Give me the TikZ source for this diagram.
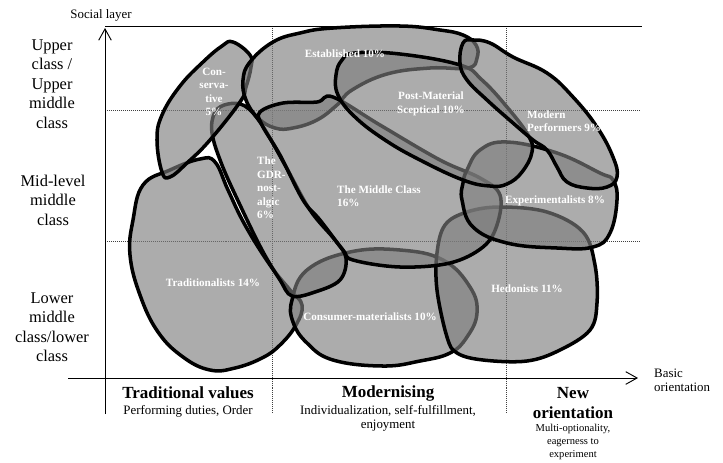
\documentclass[tikz,border=0pt]{standalone}
\usepackage{fontspec}
\setmainfont{Liberation Serif}
\usetikzlibrary{arrows.meta}

\begin{document}
\begin{tikzpicture}[x=0.03cm, y=-0.03cm, >={Straight Barb[length=3.4mm,width=3.8mm]},
    blob/.style={draw=black, line width=3pt, fill=black!51, fill opacity=0.64, line join=round},
    grid/.style={densely dotted, line width=0.7pt, black!75},
    tag/.style={text=white, font=\fontsize{9.5}{11.5}\selectfont\bfseries, inner sep=0pt},
    layer/.style={font=\fontsize{14}{16.6}\selectfont, align=center, inner sep=0pt},
    value/.style={font=\fontsize{14.5}{17}\selectfont\bfseries, align=center, inner sep=0pt},
    note/.style={font=\fontsize{11}{12}\selectfont, align=center, inner sep=0pt}]
    \useasboundingbox (0,0) rectangle (723,462);
    % grid
    \draw[grid] (105,110) -- (640,110);
    \draw[grid] (105,241) -- (640,241);
    \draw[grid] (272,26) -- (272,414);
    \draw[grid] (506,26) -- (506,414);
    % milieus
    \draw[blob] plot[smooth cycle, tension=0.7] coordinates {(143,185) (170,170) (200,159) (215,162) (228,190) (245,225) (270,265) (290,290) (302,305) (296,325) (280,345) (262,358) (235,368) (210,370) (183,357) (158,332) (140,295) (130,255) (133,220)};
    \draw[blob] plot[smooth cycle, tension=0.7] coordinates {(292,300) (307,270) (350,252) (400,250) (443,260) (470,287) (477,313) (467,337) (450,353) (420,361) (383,366) (333,360) (307,343) (293,322)};
    \draw[blob] plot[smooth cycle, tension=0.6] coordinates {(437,253) (445,225) (467,212) (500,207) (547,212) (583,232) (595,265) (597,303) (590,330) (560,350) (527,361) (483,360) (457,353) (447,337) (437,290)};
    \draw[blob] plot[smooth cycle, tension=0.6] coordinates {(212,133) (215,112) (228,104) (245,106) (262,125) (285,165) (310,210) (335,240) (346,258) (340,280) (315,292) (292,296) (280,280) (262,250) (240,205) (222,165)};
    \draw[blob] plot[smooth cycle, tension=0.7] coordinates {(233,42) (250,55) (251,67) (246,87) (240,102) (210,140) (187,163) (170,177) (162,172) (157,140) (162,115) (180,86) (203,62) (222,46)};
    \draw[blob] plot[smooth cycle, tension=0.7] coordinates {(243,80) (250,62) (273,42) (300,33) (333,28) (400,26) (440,30) (463,35) (476,45) (477,58) (468,68) (430,68) (387,74) (352,90) (337,105) (317,120) (293,128) (275,128) (258,118) (246,100)};
    \draw[blob] plot[smooth cycle, tension=0.6] coordinates {(260,112) (283,103) (317,102) (333,97) (380,125) (440,160) (480,178) (500,195) (497,225) (483,247) (450,263) (400,267) (353,260) (343,250) (320,220) (303,200) (280,155) (262,125)};
    \draw[blob] plot[smooth cycle, tension=0.7] coordinates {(463,183) (462,200) (473,227) (507,243) (557,248) (593,247) (610,233) (617,200) (613,180) (600,173) (557,153) (507,142) (480,150) (467,170)};
    \draw[blob] plot[smooth cycle, tension=0.7] coordinates {(336,75) (342,60) (355,53) (400,54) (460,65) (482,80) (507,107) (528,135) (532,152) (522,172) (507,184) (490,186) (463,180) (420,160) (385,140) (355,117) (338,95)};
    \draw[blob] plot[smooth cycle, tension=0.7] coordinates {(463,43) (473,40) (490,43) (513,57) (547,73) (573,97) (597,127) (613,157) (617,177) (607,187) (587,188) (567,182) (557,167) (547,150) (533,140) (513,123) (487,100) (467,80) (460,63)};
    % axes
    \coordinate (yfoot) at (105,414);
    \coordinate (ytip) at (105,28);
    \coordinate (xfoot) at (68,378);
    \coordinate (xtip) at (638,378);
    \coordinate (topl) at (105,26);
    \coordinate (topr) at (642,26);
    \draw[->, line width=0.8pt] (yfoot) -- (ytip);
    \draw[->, line width=0.8pt] (xfoot) -- (xtip);
    \draw[line width=0.8pt] (topl) -- (topr);
    % milieu labels
    \node[tag, align=center] (cons) at (214,92) {Con-\\serva-\\tive\\5\%};
    \node[tag] (estab) at (345,54) {Established 10\%};
    \node[tag, align=center] (postm) at (431,104) {Post-Material\\Sceptical 10\%};
    \node[tag, align=left, anchor=west] (modern) at (527,121) {Modern\\Performers 9\%};
    \node[tag, align=left, anchor=west] (gdr) at (257,188) {The\\GDR-\\nost-\\algic\\6\%};
    \node[tag, align=left, anchor=west] (middle) at (337,196) {The Middle Class\\16\%};
    \node[tag] (exper) at (555,201) {Experimentalists 8\%};
    \node[tag] (trad) at (213,283) {Traditionalists 14\%};
    \node[tag] (consum) at (370,317) {Consumer-materialists 10\%};
    \node[tag] (hedon) at (527,289) {Hedonists 11\%};
    % axis labels
    \node[note] (social) at (101,15) {Social layer};
    \node[note, align=left, anchor=west] (basic) at (654,380) {Basic\\orientation};
    \node[layer] (upper) at (52,84) {Upper\\class /\\Upper\\middle\\class};
    \node[layer] (mid) at (53,200) {Mid-level\\middle\\class};
    \node[layer] (lower) at (52,327) {Lower\\middle\\class/lower\\class};
    \node[value] (tradv) at (188,393) {Traditional values};
    \node[note] (tradn) at (188,411) {Performing duties, Order};
    \node[value] (modv) at (388,393) {Modernising};
    \node[note] (modn) at (388,418) {Individualization, self-fulfillment,\\enjoyment};
    \node[value, font=\fontsize{14.5}{17.5}\selectfont\bfseries] (newv) at (573,403) {New\\orientation};
    \node[note, font=\fontsize{9}{11}\selectfont] (newn) at (573,442) {Multi-optionality,\\eagerness to\\experiment};
\end{tikzpicture}
\end{document}
